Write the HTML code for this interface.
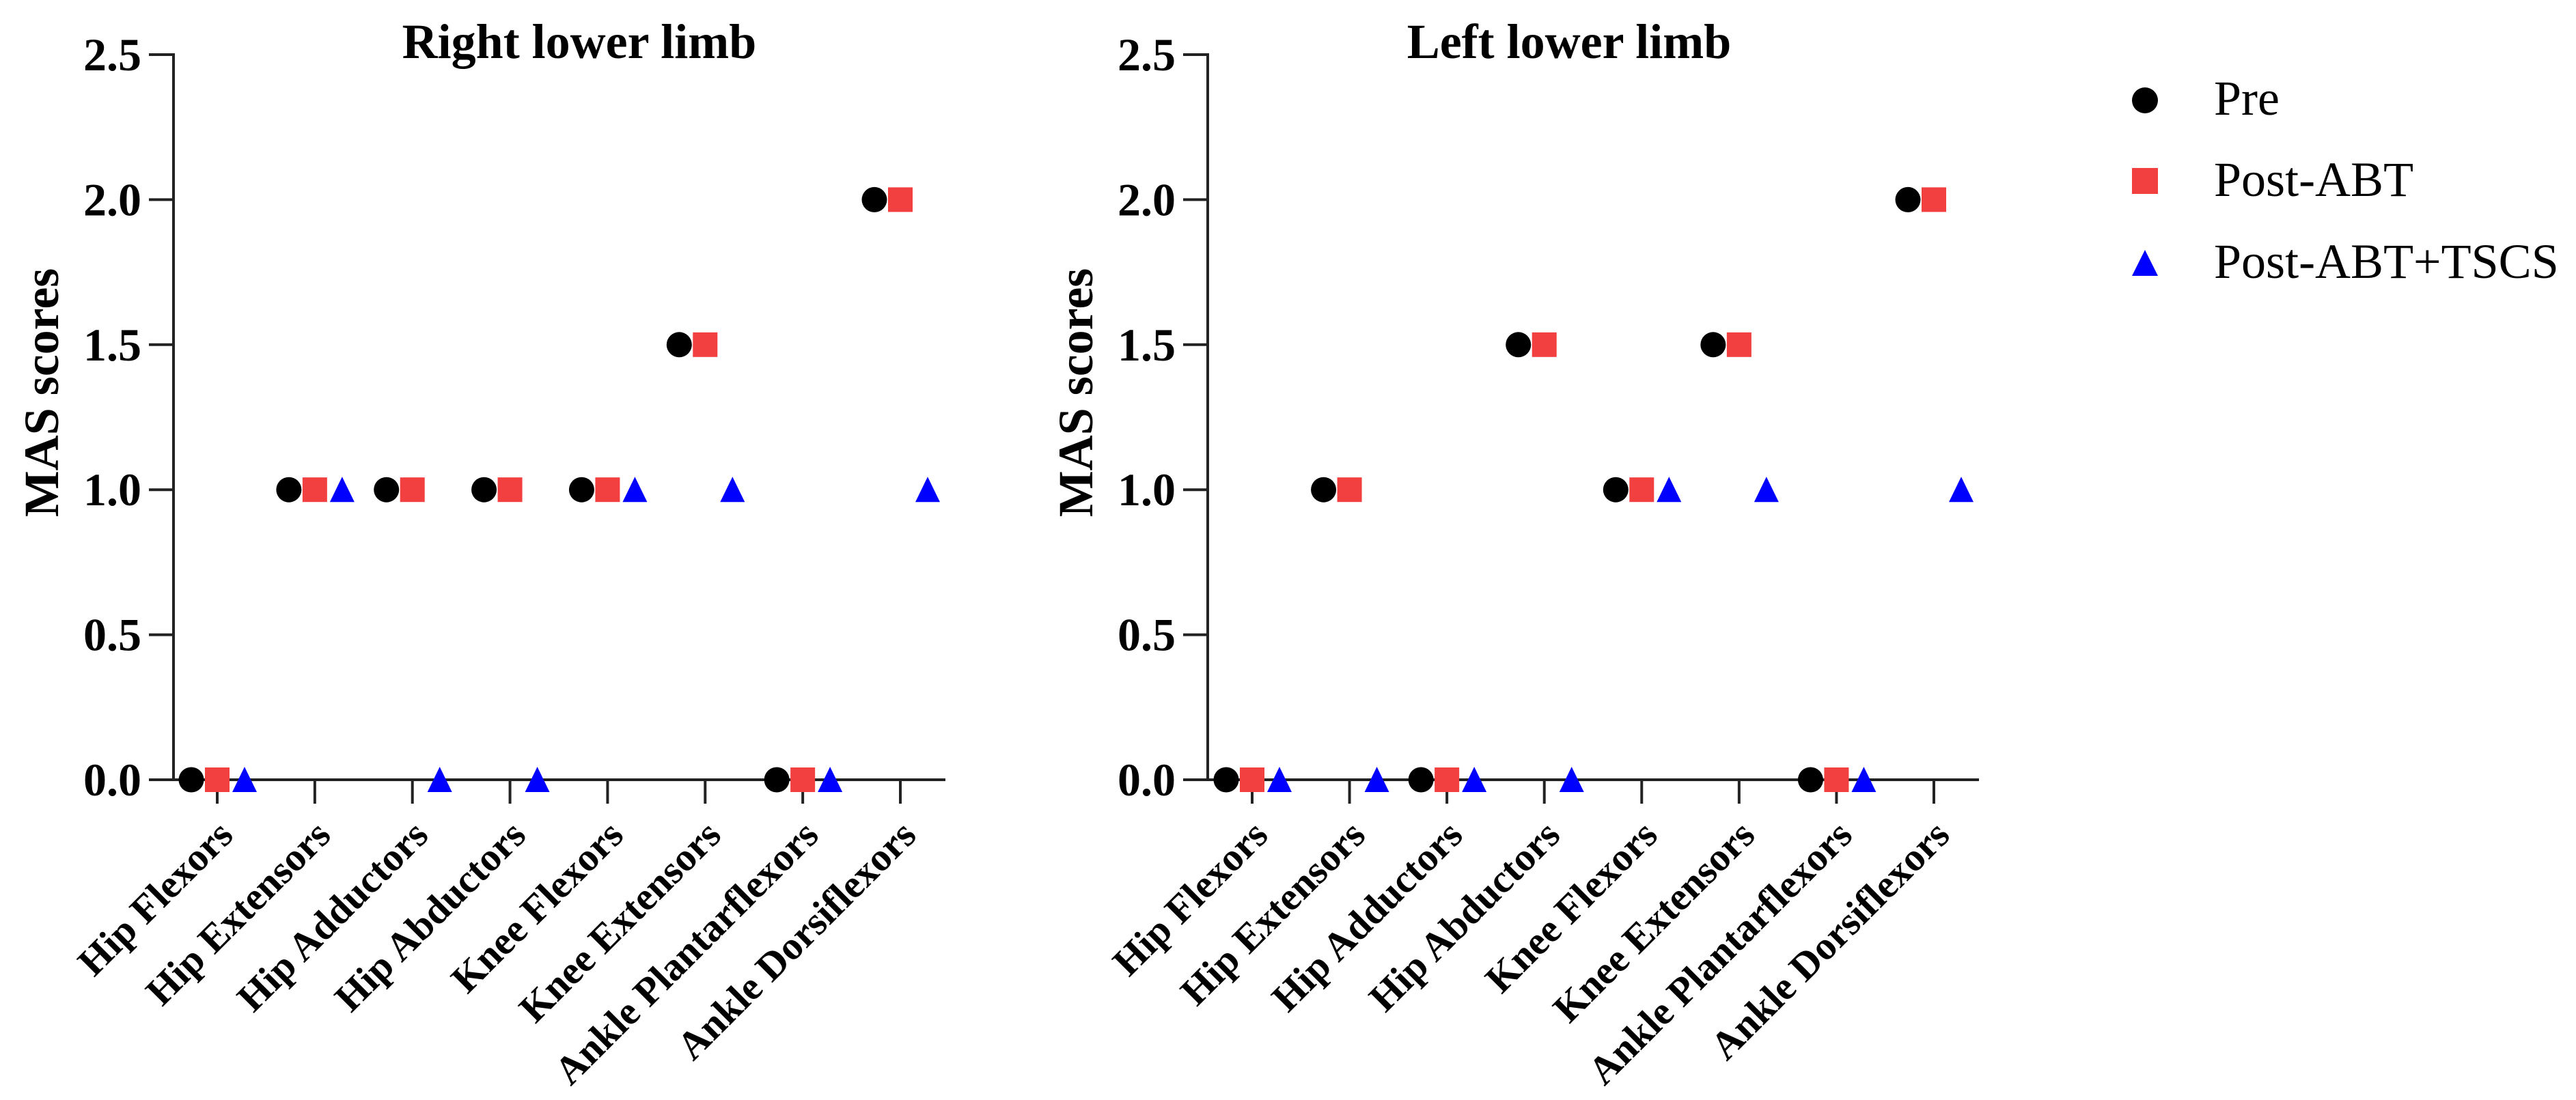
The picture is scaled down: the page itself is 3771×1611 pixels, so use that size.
<!DOCTYPE html>
<html><head><meta charset="utf-8"><style>
html,body{margin:0;padding:0;background:#fff;width:3771px;height:1611px;overflow:hidden}
svg{display:block}
text{font-family:"Liberation Serif",serif}
</style></head><body>
<svg id="chart" width="3771" height="1611" viewBox="0 0 3771 1611" xmlns="http://www.w3.org/2000/svg">
<g id="legend">
  <g><circle cx="3140" cy="147" r="19" fill="#000"/><text x="3241" y="168" font-size="72">Pre</text></g>
  <g><rect x="3121" y="246" width="38" height="38" fill="#f24040"/><text x="3241" y="287" font-size="72">Post-ABT</text></g>
  <g><polygon points="3140,366 3159,404 3121,404" fill="#0000ff"/><text x="3241" y="407" font-size="72">Post-ABT+TSCS</text></g>
</g>
</svg>
<script>
const categories = ["Hip Flexors","Hip Extensors","Hip Adductors","Hip Abductors","Knee Flexors","Knee Extensors","Ankle Plantarflexors","Ankle Dorsiflexors"];
const yTicks = [0.0,0.5,1.0,1.5,2.0,2.5];
const rightPre = [0,1,1,1,1,1.5,0,2];
const rightPostABT = [0,1,1,1,1,1.5,0,2];
const rightPostTSCS = [0,1,0,0,1,1,0,1];
const leftPre = [0,1,0,1.5,1,1.5,0,2];
const leftPostABT = [0,1,0,1.5,1,1.5,0,2];
const leftPostTSCS = [0,0,0,0,1,1,0,1];

const NS = "http://www.w3.org/2000/svg";
const svg = document.getElementById('chart');
function mk(tag, attrs, parent){const e=document.createElementNS(NS,tag);for(const k in attrs)e.setAttribute(k,attrs[k]);parent.appendChild(e);return e;}

function panel(name, title, axisX, firstTick, lastTick, endX, titleX, pre, abt, tscs){
  const g = mk('g',{},svg);
  
  
  const y0 = 1142, yTop = 80, yMax = 2.5;
  const ys = v => y0 - (v / yMax) * (y0 - yTop);
  const step = (lastTick - firstTick) / (categories.length - 1);
  const xs = i => firstTick + i * step;
  const t = mk('text',{x:titleX,y:85,'font-size':72,'font-weight':'bold','text-anchor':'middle'},g);
  t.textContent = title;
  
  
  const ya = mk('line',{x1:axisX,y1:yTop-2,x2:axisX,y2:y0+2,stroke:'#222','stroke-width':4},g);
  
  
  const xa = mk('line',{x1:axisX-2,y1:y0,x2:endX,y2:y0,stroke:'#222','stroke-width':4},g);
  
  
  yTicks.forEach(v=>{
    mk('line',{x1:axisX-36,y1:ys(v),x2:axisX,y2:ys(v),stroke:'#222','stroke-width':4},g);
    const l = mk('text',{x:axisX-47,y:ys(v)+23,'font-size':68,'font-weight':'bold','text-anchor':'end'},g);
    l.textContent = v.toFixed(1);
    
    
  });
  const yt = mk('text',{x:0,y:0,'font-size':72,'font-weight':'bold','text-anchor':'middle',transform:`translate(${axisX-169},575) rotate(-90)`},g);
  yt.textContent = 'MAS scores';
  
  
  categories.forEach((c,i)=>{
    const x = xs(i);
    mk('line',{x1:x,y1:y0,x2:x,y2:y0+35,stroke:'#222','stroke-width':4},g);
    const l = mk('text',{x:0,y:0,'font-size':58,'font-weight':'bold','text-anchor':'end',transform:`translate(${x+26},${y0+84}) rotate(-45)`},g);
    l.textContent = c;
    
    
    const p = mk('circle',{cx:x-38,cy:ys(pre[i]),r:18.5,fill:'#000'},g);
    
    
    const s = mk('rect',{x:x-18,y:ys(abt[i])-18,width:36,height:36,fill:'#f24040'},g);
    
    
    const tx = x+40, ty = ys(tscs[i]);
    const tr = mk('polygon',{points:`${tx},${ty-19} ${tx+18},${ty+18} ${tx-18},${ty+18}`,fill:'#0000ff'},g);
    
    
  });
}
panel('right-lower-limb-panel','Right lower limb',254,318,1318,1384,848,rightPre,rightPostABT,rightPostTSCS);
panel('left-lower-limb-panel','Left lower limb',1768,1833,2831,2897,2297,leftPre,leftPostABT,leftPostTSCS);
</script>
</body></html>
